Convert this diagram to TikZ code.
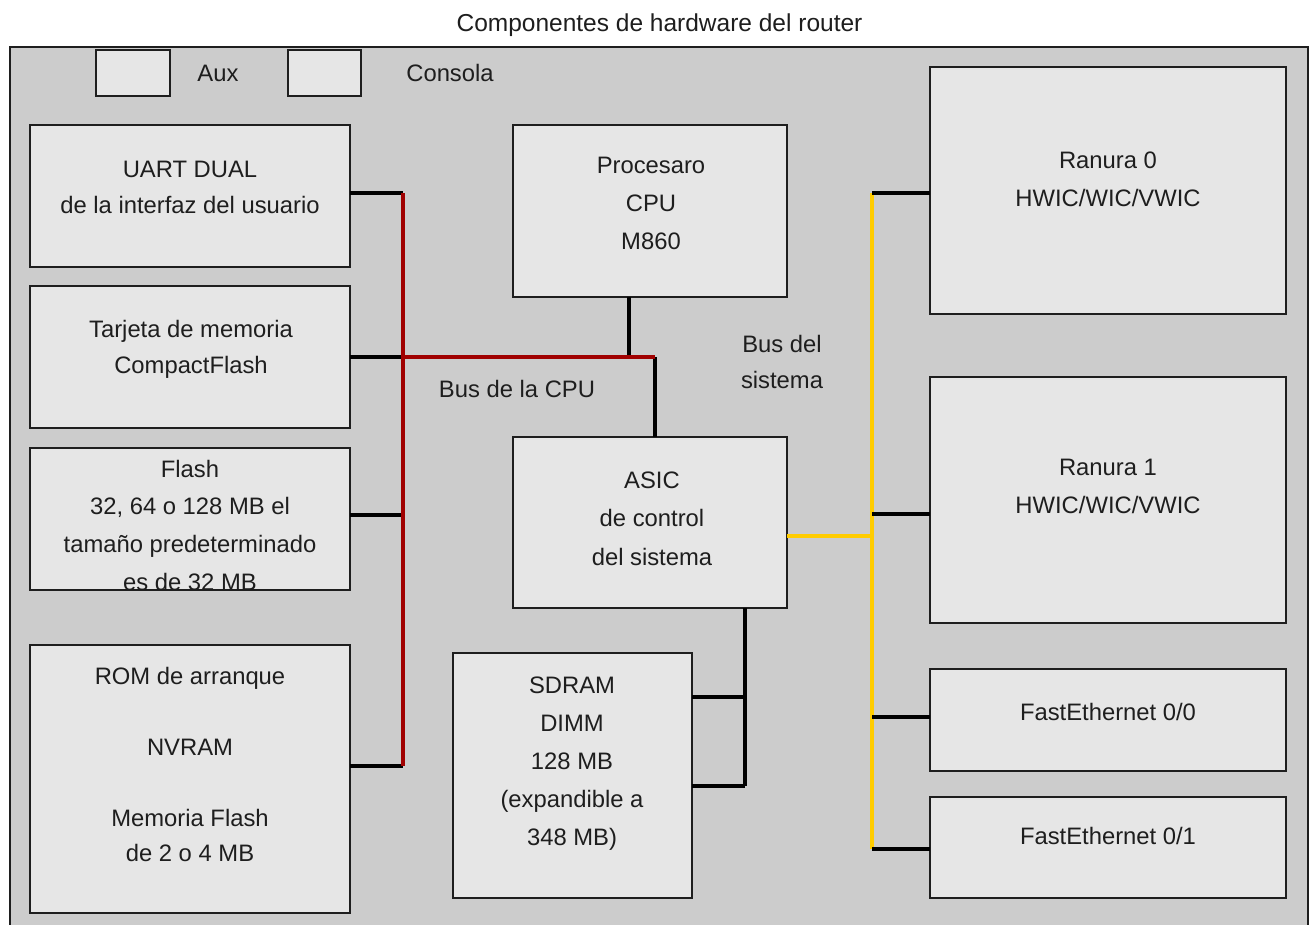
\documentclass[tikz,border=0pt]{standalone}
\usepackage{fontspec}
\setmainfont{Liberation Sans}
\definecolor{framegray}{HTML}{CCCCCC}
\definecolor{boxgray}{HTML}{E6E6E6}
\definecolor{busred}{HTML}{A00000}
\definecolor{busyellow}{HTML}{FFCC00}
\definecolor{ink}{HTML}{1E1E1E}
\newcommand\txtL[1]{\fontsize{23.8}{#1}\selectfont}
\begin{document}
\begin{tikzpicture}[x=1pt,y=-1pt,
  box/.style={draw=ink, line width=1.6pt, fill=boxgray, inner sep=0pt, outer sep=0pt, anchor=north west},
  lbl/.style={align=center, inner sep=0pt, outer sep=0pt, text=ink},
  stub/.style={draw=black, line width=3.4pt},
  redbus/.style={draw=busred, line width=3.6pt},
  yelbus/.style={draw=busyellow, line width=3.6pt}]
\useasboundingbox (0,0) rectangle (1313,924);
\clip (0,0) rectangle (1313,924);
\fill[white] (0,0) rectangle (1313,924);
% frame
\node[box, fill=framegray, minimum width=1298pt, minimum height=913pt] (frame) at (10,47) {};
\node[lbl, anchor=base, font=\fontsize{24.5}{30}\selectfont] (title) at (659.5,31) {Componentes de hardware del router};
% top ports
\node[box, minimum width=74pt, minimum height=46pt] (aux) at (96,50) {};
\node[box, minimum width=73pt, minimum height=46pt] (consola) at (288,50) {};
\node[lbl, anchor=base, font=\txtL{30}] (auxT) at (218,81) {Aux};
\node[lbl, anchor=base, font=\txtL{30}] (consolaT) at (450,81) {Consola};
% left boxes
\node[box, minimum width=320pt, minimum height=142pt] (uart) at (30,125) {};
\node[box, minimum width=320pt, minimum height=142pt] (tarjeta) at (30,286) {};
\node[box, minimum width=320pt, minimum height=142pt] (flash) at (30,448) {};
\node[box, minimum width=320pt, minimum height=268pt] (rom) at (30,645) {};
% centre boxes
\node[box, minimum width=274pt, minimum height=172pt] (cpu) at (513,125) {};
\node[box, minimum width=274pt, minimum height=171pt] (asic) at (513,437) {};
\node[box, minimum width=239pt, minimum height=245pt] (sdram) at (453,653) {};
% right boxes
\node[box, minimum width=356pt, minimum height=247pt] (ranura0) at (930,67) {};
\node[box, minimum width=356pt, minimum height=246pt] (ranura1) at (930,377) {};
\node[box, minimum width=356pt, minimum height=102pt] (fe0) at (930,669) {};
\node[box, minimum width=356pt, minimum height=101pt] (fe1) at (930,797) {};
% junction coordinates
\coordinate (rt) at (403,193);
\coordinate (rc) at (403,357);
\coordinate (rf) at (403,515);
\coordinate (rb) at (403,766);
\coordinate (rj) at (655,357);
\coordinate (cj) at (629,357);
\coordinate (yt) at (872,193);
\coordinate (y1) at (872,514);
\coordinate (ya) at (872,536);
\coordinate (y2) at (872,717);
\coordinate (yb) at (872,849);
\coordinate (s1) at (745,697);
\coordinate (s2) at (745,786);
% black stubs
\draw[stub] (uart.east |- rt) -- (rt);
\draw[stub] (tarjeta.east |- rc) -- (rc);
\draw[stub] (flash.east |- rf) -- (rf);
\draw[stub] (rom.east |- rb) -- (rb);
\draw[stub] (cpu.south -| cj) -- (cj);
\draw[stub] (rj) -- (asic.north -| rj);
\draw[stub] (asic.south -| s1) -- (s2);
\draw[stub] (sdram.east |- s1) -- (s1);
\draw[stub] (sdram.east |- s2) -- (s2);
% buses
\draw[redbus] (rt) -- (rb);
\draw[redbus] (rc) -- (rj);
\draw[yelbus] (asic.east |- ya) -- (ya);
\draw[yelbus] (yt) -- (yb);
\draw[stub] (yt) -- (ranura0.west |- yt);
\draw[stub] (y1) -- (ranura1.west |- y1);
\draw[stub] (y2) -- (fe0.west |- y2);
\draw[stub] (yb) -- (fe1.west |- yb);
% texts
\node[lbl, font=\txtL{36}] (uartT) at (190,187.8) {\strut UART DUAL\\\strut de la interfaz del usuario};
\node[lbl, font=\txtL{36}] (tarjetaT) at (191,347.8) {\strut Tarjeta de memoria\\\strut CompactFlash};
\node[lbl, font=\txtL{37.9}] (flashT) at (190,526.3) {\strut Flash\\\strut 32, 64 o 128 MB el\\\strut tamaño predeterminado\\\strut es de 32 MB};
\node[lbl, font=\txtL{35.5}] (romT) at (190,765.7) {\strut ROM de arranque\\\strut\\\strut NVRAM\\\strut\\\strut Memoria Flash\\\strut de 2 o 4 MB};
\node[lbl, font=\txtL{38.2}] (cpuT) at (651,203.6) {\strut Procesaro\\\strut CPU\\\strut M860};
\node[lbl, font=\txtL{38.5}] (asicT) at (652,518.8) {\strut ASIC\\\strut de control\\\strut del sistema};
\node[lbl, font=\txtL{38}] (sdramT) at (572,761.4) {\strut SDRAM\\\strut DIMM\\\strut 128 MB\\\strut (expandible a\\\strut 348 MB)};
\node[lbl, font=\txtL{38}] (ranura0T) at (1108,179.4) {\strut Ranura 0\\\strut HWIC/WIC/VWIC};
\node[lbl, font=\txtL{38}] (ranura1T) at (1108,486.4) {\strut Ranura 1\\\strut HWIC/WIC/VWIC};
\node[lbl, anchor=base, font=\txtL{30}] (fe0T) at (1108,720) {FastEthernet 0/0};
\node[lbl, anchor=base, font=\txtL{30}] (fe1T) at (1108,844) {FastEthernet 0/1};
\node[lbl, anchor=base, font=\txtL{30}] (cpubusT) at (517,397) {Bus de la CPU};
\node[lbl, font=\txtL{36}] (sysbusT) at (782,362.8) {\strut Bus del\\\strut sistema};
\end{tikzpicture}
\end{document}
